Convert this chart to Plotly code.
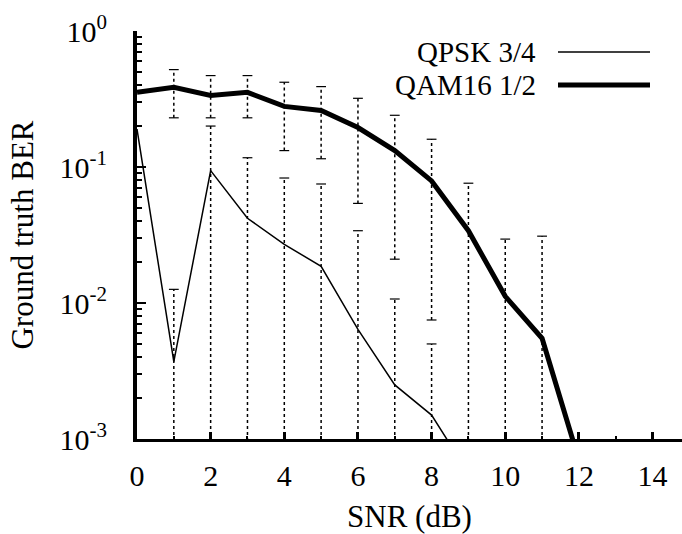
import plotly.graph_objects as go

# ---- data ----
snr_qpsk = [0, 1, 2, 3, 4, 5, 6, 7, 8, 9]
ber_qpsk = [0.19, 0.0037, 0.094, 0.042, 0.027, 0.0186, 0.0064, 0.0025, 0.0015, 0.00056]

snr_qam = [0, 1, 2, 3, 4, 5, 6, 7, 8, 9, 10, 11, 12]
ber_qam = [0.354, 0.385, 0.336, 0.354, 0.279, 0.26, 0.195, 0.132, 0.079, 0.034, 0.0112, 0.0055, 0.0007]

# error-bar ranges (lower values below 1e-3 run off the bottom of the axis)
err_x_qpsk = [1, 2, 3, 4, 5, 6, 7, 8]
err_lo_qpsk = [1e-5, 1e-5, 1e-5, 1e-5, 1e-5, 1e-5, 1e-5, 1e-5]
err_hi_qpsk = [0.0126, 0.2, 0.117, 0.083, 0.075, 0.034, 0.0107, 0.005]

err_x_qam = [1, 2, 3, 4, 5, 6, 7, 8, 9, 10, 11]
err_lo_qam = [0.23, 0.23, 0.23, 0.132, 0.115, 0.054, 0.021, 0.0075, 1e-5, 1e-5, 1e-5]
err_hi_qam = [0.52, 0.47, 0.47, 0.42, 0.39, 0.32, 0.24, 0.16, 0.076, 0.0295, 0.031]

x_ticks = [0, 2, 4, 6, 8, 10, 12, 14]
x_minor = [1, 3, 5, 7, 9, 11, 13]
y_tickvals = [1e-3, 1e-2, 1e-1, 1]
y_ticktext = ["10<sup>-3</sup>", "10<sup>-2</sup>", "10<sup>-1</sup>", "10<sup>0</sup>"]
y_minor = [m * 10 ** e for e in (-3, -2, -1) for m in range(2, 10)]

legend_names = ["QPSK 3/4", "QAM16 1/2"]

FONT = "Liberation Serif"

fig = go.Figure()


def add_errbars(xs, lo, hi):
    ex, ey = [], []
    for x, a, b in zip(xs, lo, hi):
        ex += [x, x, None]
        ey += [a, b, None]
    fig.add_trace(go.Scatter(x=ex, y=ey, mode="lines",
                             line=dict(color="black", width=1.5, dash="dot"),
                             showlegend=False, hoverinfo="skip"))
    fig.add_trace(go.Scatter(x=list(xs) + list(xs), y=list(lo) + list(hi), mode="markers",
                             marker=dict(symbol="line-ew-open", size=7, color="black",
                                         line=dict(color="black", width=1.2)),
                             showlegend=False, hoverinfo="skip"))


add_errbars(err_x_qam, err_lo_qam, err_hi_qam)
add_errbars(err_x_qpsk, err_lo_qpsk, err_hi_qpsk)

fig.add_trace(go.Scatter(x=snr_qpsk, y=ber_qpsk, mode="lines", name=legend_names[0],
                         line=dict(color="black", width=1.5), showlegend=False))
fig.add_trace(go.Scatter(x=snr_qam, y=ber_qam, mode="lines", name=legend_names[1],
                         line=dict(color="black", width=5), showlegend=False))

# gnuplot-style key: text right-aligned, line sample to its right
PLOT_L, PLOT_W, PLOT_T, PLOT_H = 137, 545, 31, 408
key_text_right = 538
key_px_y = [52, 85]
key_w = [1.5, 5]
for name, py, w in zip(legend_names, key_px_y, key_w):
    yk = 1 - (py - PLOT_T) / PLOT_H
    fig.add_annotation(x=(key_text_right - PLOT_L) / PLOT_W, y=yk, xref="paper", yref="paper",
                       text=name, showarrow=False, xanchor="right", yanchor="middle",
                       font=dict(family=FONT, size=29, color="black"))
    fig.add_shape(type="line", xref="paper", yref="paper",
                  x0=(558 - PLOT_L) / PLOT_W, x1=(650 - PLOT_L) / PLOT_W, y0=yk, y1=yk,
                  line=dict(color="black", width=w))

fig.update_layout(
    width=682, height=534,
    margin=dict(l=PLOT_L, r=0, t=PLOT_T, b=534 - PLOT_T - PLOT_H),
    paper_bgcolor="white", plot_bgcolor="white",
    font=dict(family=FONT, size=30, color="black"),
    showlegend=False,
)

fig.update_xaxes(
    range=[0, 14.8], tickvals=x_ticks, ticks="inside", ticklen=7, tickwidth=3,
    tickcolor="black",
    minor=dict(tickvals=x_minor, ticks="inside", ticklen=3, tickwidth=1.5, tickcolor="black"),
    showline=True, linewidth=3, linecolor="black",
    showgrid=False, zeroline=False, ticklabelstandoff=8,
    title=dict(text="SNR (dB)", font=dict(family=FONT, size=31), standoff=16),
    tickfont=dict(family=FONT, size=30),
)

fig.update_yaxes(
    type="log", range=[-3, 0], tickvals=y_tickvals, ticktext=y_ticktext,
    ticks="inside", ticklen=9, tickwidth=2, tickcolor="black",
    minor=dict(tickvals=y_minor, ticks="inside", ticklen=5, tickwidth=2, tickcolor="black"),
    showline=True, linewidth=4, linecolor="black", showgrid=False, zeroline=False,
    ticklabelstandoff=20,
    title=dict(text="Ground truth BER", font=dict(family=FONT, size=31), standoff=18),
    tickfont=dict(family=FONT, size=30),
)

fig.write_html("out.html")
